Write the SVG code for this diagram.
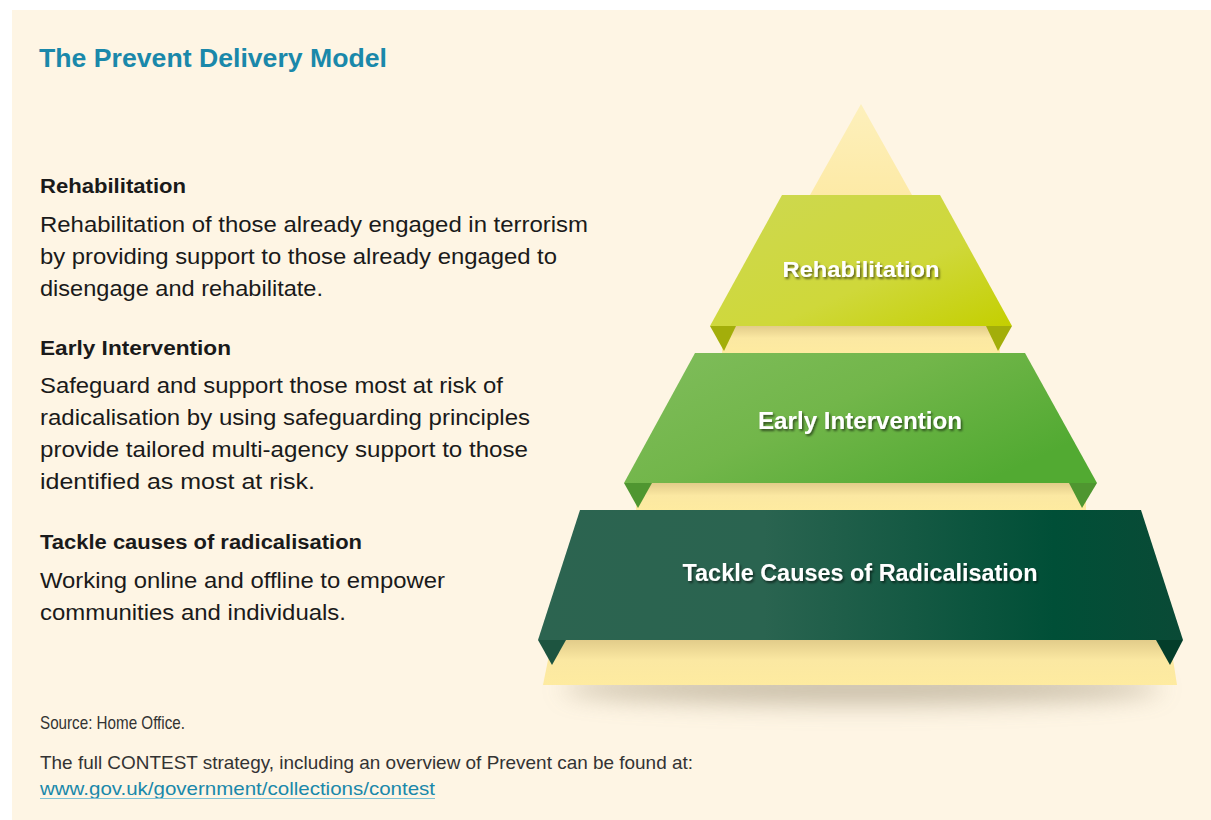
<svg xmlns="http://www.w3.org/2000/svg" width="1211" height="820" viewBox="0 0 1211 820">
<defs>
<style>
.h{font-family:"Liberation Sans",Arial,sans-serif;font-weight:bold;font-size:20px;fill:#1a1a1a}
.b{font-family:"Liberation Sans",Arial,sans-serif;font-size:21.5px;fill:#1a1a1a}
.s{font-family:"Liberation Sans",Arial,sans-serif;font-size:18.5px;fill:#333}
.lbl{font-family:"Liberation Sans",Arial,sans-serif;font-weight:bold;fill:#fff;text-anchor:middle;filter:url(#ts)}
</style>
<filter id="ts" x="-10%" y="-30%" width="120%" height="160%">
<feDropShadow dx="1.5" dy="2" stdDeviation="1.2" flood-color="#000" flood-opacity="0.55"/>
</filter>
<filter id="blur" x="-20%" y="-100%" width="140%" height="300%">
<feGaussianBlur stdDeviation="12"/>
</filter>
<linearGradient id="gR" x1="0" y1="0" x2="1" y2="1">
<stop offset="0" stop-color="#cdd851"/><stop offset="0.6" stop-color="#cfd83a"/><stop offset="1" stop-color="#c4cf00"/>
</linearGradient>
<linearGradient id="gE" x1="0" y1="0" x2="1" y2="0.6">
<stop offset="0" stop-color="#80bd5c"/><stop offset="0.5" stop-color="#72b64a"/><stop offset="1" stop-color="#52aa32"/>
</linearGradient>
<linearGradient id="gT" x1="0" y1="0" x2="1" y2="0">
<stop offset="0" stop-color="#2c6450"/><stop offset="0.35" stop-color="#2a6450"/><stop offset="0.8" stop-color="#004f37"/><stop offset="1" stop-color="#0a4a36"/>
</linearGradient>
<linearGradient id="gY" x1="0" y1="0" x2="0" y2="1">
<stop offset="0" stop-color="#e2cc8a"/><stop offset="0.45" stop-color="#fbe8a2"/><stop offset="1" stop-color="#feeba0"/>
</linearGradient>
<linearGradient id="gTop" x1="0" y1="0" x2="0" y2="1">
<stop offset="0" stop-color="#fdf0bc"/><stop offset="1" stop-color="#fdeaa6"/>
</linearGradient>
</defs>
<rect width="1211" height="820" fill="#fff"/>
<rect x="12" y="10" width="1199" height="810" fill="#fef5e4"/>

<g id="title">
<text x="39" y="67" font-family="'Liberation Sans',Arial,sans-serif" font-weight="bold" font-size="26" fill="#1a88aa" textLength="348" lengthAdjust="spacingAndGlyphs">The Prevent Delivery Model</text>
</g>

<g id="desc-rehab">
<text class="h" x="40" y="193" textLength="146" lengthAdjust="spacingAndGlyphs">Rehabilitation</text>
<text class="b" x="40" y="232" textLength="548" lengthAdjust="spacingAndGlyphs">Rehabilitation of those already engaged in terrorism</text>
<text class="b" x="40" y="264" textLength="517" lengthAdjust="spacingAndGlyphs">by providing support to those already engaged to</text>
<text class="b" x="40" y="296" textLength="283" lengthAdjust="spacingAndGlyphs">disengage and rehabilitate.</text>
</g>
<g id="desc-early">
<text class="h" x="40" y="355" textLength="191" lengthAdjust="spacingAndGlyphs">Early Intervention</text>
<text class="b" x="40" y="393" textLength="463" lengthAdjust="spacingAndGlyphs">Safeguard and support those most at risk of</text>
<text class="b" x="40" y="425" textLength="490" lengthAdjust="spacingAndGlyphs">radicalisation by using safeguarding principles</text>
<text class="b" x="40" y="457" textLength="488" lengthAdjust="spacingAndGlyphs">provide tailored multi-agency support to those</text>
<text class="b" x="40" y="489" textLength="275" lengthAdjust="spacingAndGlyphs">identified as most at risk.</text>
</g>
<g id="desc-tackle">
<text class="h" x="40" y="549" textLength="322" lengthAdjust="spacingAndGlyphs">Tackle causes of radicalisation</text>
<text class="b" x="40" y="588" textLength="405" lengthAdjust="spacingAndGlyphs">Working online and offline to empower</text>
<text class="b" x="40" y="620" textLength="306" lengthAdjust="spacingAndGlyphs">communities and individuals.</text>
</g>

<g id="source">
<text class="s" x="40" y="729" textLength="145" lengthAdjust="spacingAndGlyphs">Source: Home Office.</text>
<text class="s" x="40" y="769" textLength="653" lengthAdjust="spacingAndGlyphs">The full CONTEST strategy, including an overview of Prevent can be found at:</text>
<text class="s" x="40" y="795" style="fill:#1a88aa" textLength="395" lengthAdjust="spacingAndGlyphs">www.gov.uk/government/collections/contest</text>
<rect x="40" y="798" width="395" height="1" fill="#7fc2d6"/>
</g>

<g id="pyramid">
<ellipse cx="862" cy="688" rx="300" ry="16" fill="#b3a78f" opacity="0.7" filter="url(#blur)"/>
<g id="apex">
<polygon points="861,104 912,195 810,195" fill="url(#gTop)"/>
</g>
<g id="tier-rehab">
<rect x="722" y="326" width="278" height="27" fill="url(#gY)"/>
<polygon points="710,326 736,326 724,351" fill="#a3ae0a"/>
<polygon points="986,326 1012,326 998,351" fill="#a3ae0a"/>
<polygon points="782,195 940,195 1012,326 710,326" fill="url(#gR)"/>
<text class="lbl" x="861" y="277" font-size="22" textLength="157" lengthAdjust="spacingAndGlyphs">Rehabilitation</text>
</g>
<g id="tier-early">
<rect x="636" y="483" width="450" height="28" fill="url(#gY)"/>
<polygon points="624,483 652,483 638,508" fill="#4f9630"/>
<polygon points="1069,483 1097,483 1082,508" fill="#4f9630"/>
<polygon points="695,353 1025,353 1097,483 624,483" fill="url(#gE)"/>
<text class="lbl" x="860" y="429" font-size="23" textLength="204" lengthAdjust="spacingAndGlyphs">Early Intervention</text>
</g>
<g id="tier-tackle">
<polygon points="552,640 1170,640 1177,685 543,685" fill="url(#gY)"/>
<polygon points="538,640 566,640 552,665" fill="#1d5440"/>
<polygon points="1156,640 1183,640 1170,665" fill="#033d2a"/>
<polygon points="580,510 1141,510 1183,640 538,640" fill="url(#gT)"/>
<text class="lbl" x="860" y="581" font-size="24" textLength="355" lengthAdjust="spacingAndGlyphs">Tackle Causes of Radicalisation</text>
</g>
</g>
<g id="connectors"/>
</svg>
